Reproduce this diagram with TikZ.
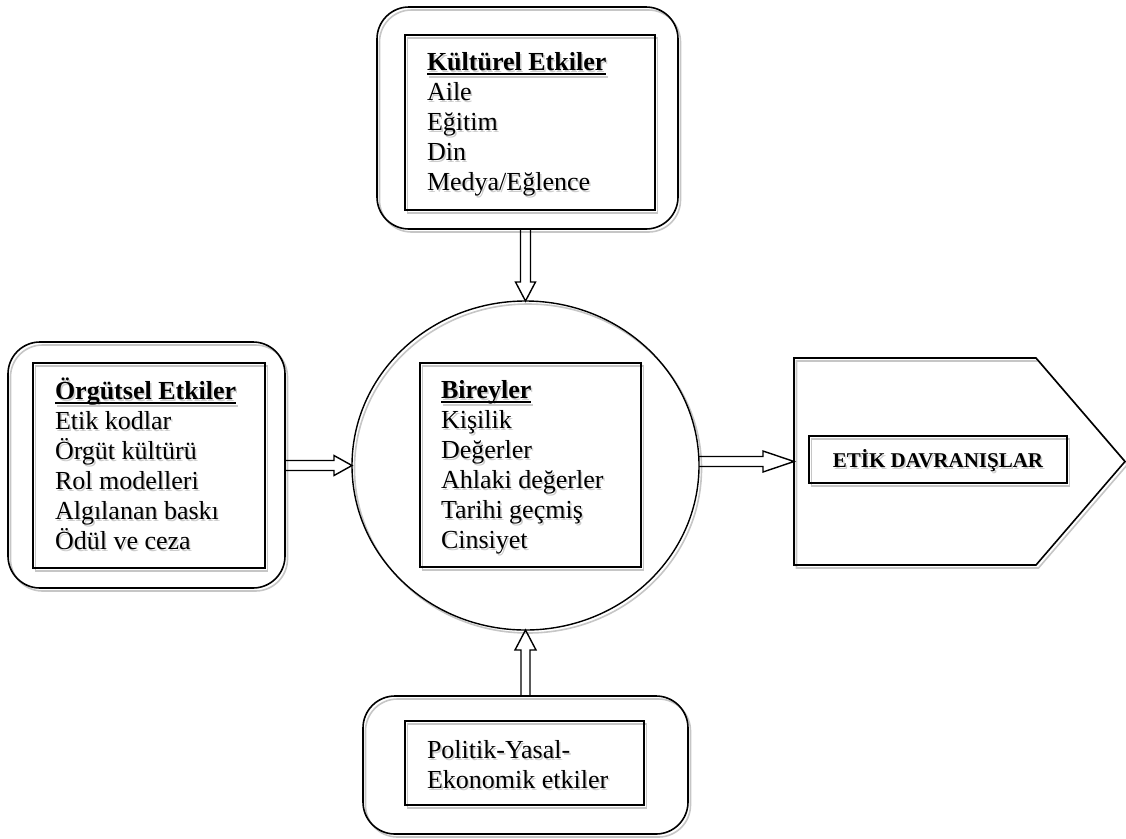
\documentclass[tikz,border=0pt]{standalone}
\usepackage{fontspec}
\setmainfont{Liberation Serif}
\usetikzlibrary{shapes.geometric,calc}

% heading underline that ignores descenders
\newcommand\ulin[1]{\setbox0\hbox{#1}\rlap{\rule[-5pt]{\wd0}{2pt}}\box0}

% a text block with a soft grey copy behind it
\newcommand\shtext[4][]{%
  \node[txtblock,#1,text=gray!40] (#2-sh) at ($(#3)+(1.5pt,-2.5pt)$) {#4};
  \node[txtblock,#1] (#2) at (#3) {#4};}

\tikzset{
  shade line/.style={preaction={draw=gray!45, line width=1.6pt,
      transform canvas={shift={(2.5pt,-3pt)}}}},
  outerbox/.style={draw, line width=1.6pt, rounded corners=32pt, shade line,
      inner sep=0, outer sep=0},
  innerbox/.style={draw, line width=1.8pt, shade line, inner sep=0, outer sep=0},
  barrow/.style={draw, line width=1.4pt, line join=miter},
  txtblock/.style={anchor=base west, inner sep=0, outer sep=0,
      font=\fontsize{26}{30}\selectfont},
}

\begin{document}
\begin{tikzpicture}[x=1pt,y=-1pt]
\useasboundingbox (0,0) rectangle (1126,838);

% cultural influences (top)
\node[outerbox, minimum width=301pt, minimum height=222pt] (kulOut) at (527.5,118) {};
\node[innerbox, minimum width=250pt, minimum height=175pt] (kulIn) at (530,122.5) {};
\shtext{kulT}{427,70}{\begin{tabular}[t]{@{}l@{}}\ulin{\textbf{Kültürel Etkiler}}\\ Aile\\ Eğitim\\ Din\\ Medya/Eğlence\end{tabular}}

% organisational influences (left)
\node[outerbox, minimum width=277pt, minimum height=246pt] (orgOut) at (146.5,465) {};
\node[innerbox, minimum width=232pt, minimum height=205pt] (orgIn) at (149,465.5) {};
\shtext{orgT}{55,399}{\begin{tabular}[t]{@{}l@{}}\ulin{\textbf{Örgütsel Etkiler}}\\ Etik kodlar\\ Örgüt kültürü\\ Rol modelleri\\ Algılanan baskı\\ Ödül ve ceza\end{tabular}}

% individuals (centre)
\node[draw, ellipse, line width=1.4pt, shade line, inner sep=0, outer sep=0,
      minimum width=347pt, minimum height=329pt] (bir) at (525.5,465.5) {};
\node[innerbox, minimum width=221pt, minimum height=204pt] (birIn) at (530.5,465) {};
\shtext{birT}{441,398}{\begin{tabular}[t]{@{}l@{}}\ulin{\textbf{Bireyler}}\\ Kişilik\\ Değerler\\ Ahlaki değerler\\ Tarihi geçmiş\\ Cinsiyet\end{tabular}}

% political-legal-economic influences (bottom)
\node[outerbox, minimum width=325pt, minimum height=138pt] (polOut) at (525.5,765) {};
\node[innerbox, minimum width=239pt, minimum height=84pt] (polIn) at (524.5,763) {};
\shtext{polT}{427,758}{\begin{tabular}[t]{@{}l@{}}Politik-Yasal-\\ Ekonomik etkiler\end{tabular}}

% ethical behaviour (right)
\draw[line width=1.6pt, shade line, line join=miter]
  (794,358) coordinate (pNW) -- (1036,358) coordinate (pNE)
  -- (1125,461.5) coordinate (pTip) -- (1036,565) coordinate (pSE)
  -- (794,565) coordinate (pSW) -- cycle;
\coordinate (pW) at (794,461.5);
\node[innerbox, minimum width=258pt, minimum height=47pt] (etkIn) at (938,459.5) {};
\node[anchor=base, inner sep=0, text=gray!40, font=\fontsize{21}{24}\selectfont\bfseries]
  (etk-sh) at ($(938,467)+(1.5pt,-2.5pt)$) {ETİK DAVRANIŞLAR};
\node[anchor=base, inner sep=0, font=\fontsize{21}{24}\selectfont\bfseries]
  (etk) at (938,467) {ETİK DAVRANIŞLAR};

% block arrows
\draw[barrow] ($(bir.north |- kulOut.south)+(-5,0)$) -- ($(bir.north)+(-5,-19)$)
  -- ($(bir.north)+(-10,-19)$) -- (bir.north) -- ($(bir.north)+(10,-19)$)
  -- ($(bir.north)+(5,-19)$) -- ($(bir.north |- kulOut.south)+(5,0)$);
\draw[barrow] ($(orgOut.east |- bir.west)+(0,-5)$) -- ($(bir.west)+(-18,-5)$)
  -- ($(bir.west)+(-18,-10)$) -- (bir.west) -- ($(bir.west)+(-18,10)$)
  -- ($(bir.west)+(-18,5)$) -- ($(orgOut.east |- bir.west)+(0,5)$);
\draw[barrow] ($(bir.east |- pW)+(0,-5)$) -- ($(pW)+(-31,-5)$)
  -- ($(pW)+(-31,-10.5)$) -- (pW) -- ($(pW)+(-31,10.5)$)
  -- ($(pW)+(-31,5)$) -- ($(bir.east |- pW)+(0,5)$);
\draw[barrow] ($(bir.south |- polOut.north)+(-4.5,0)$) -- ($(bir.south)+(-4.5,20)$)
  -- ($(bir.south)+(-10.5,20)$) -- (bir.south) -- ($(bir.south)+(10.5,20)$)
  -- ($(bir.south)+(4.5,20)$) -- ($(bir.south |- polOut.north)+(4.5,0)$);
\end{tikzpicture}
\end{document}
